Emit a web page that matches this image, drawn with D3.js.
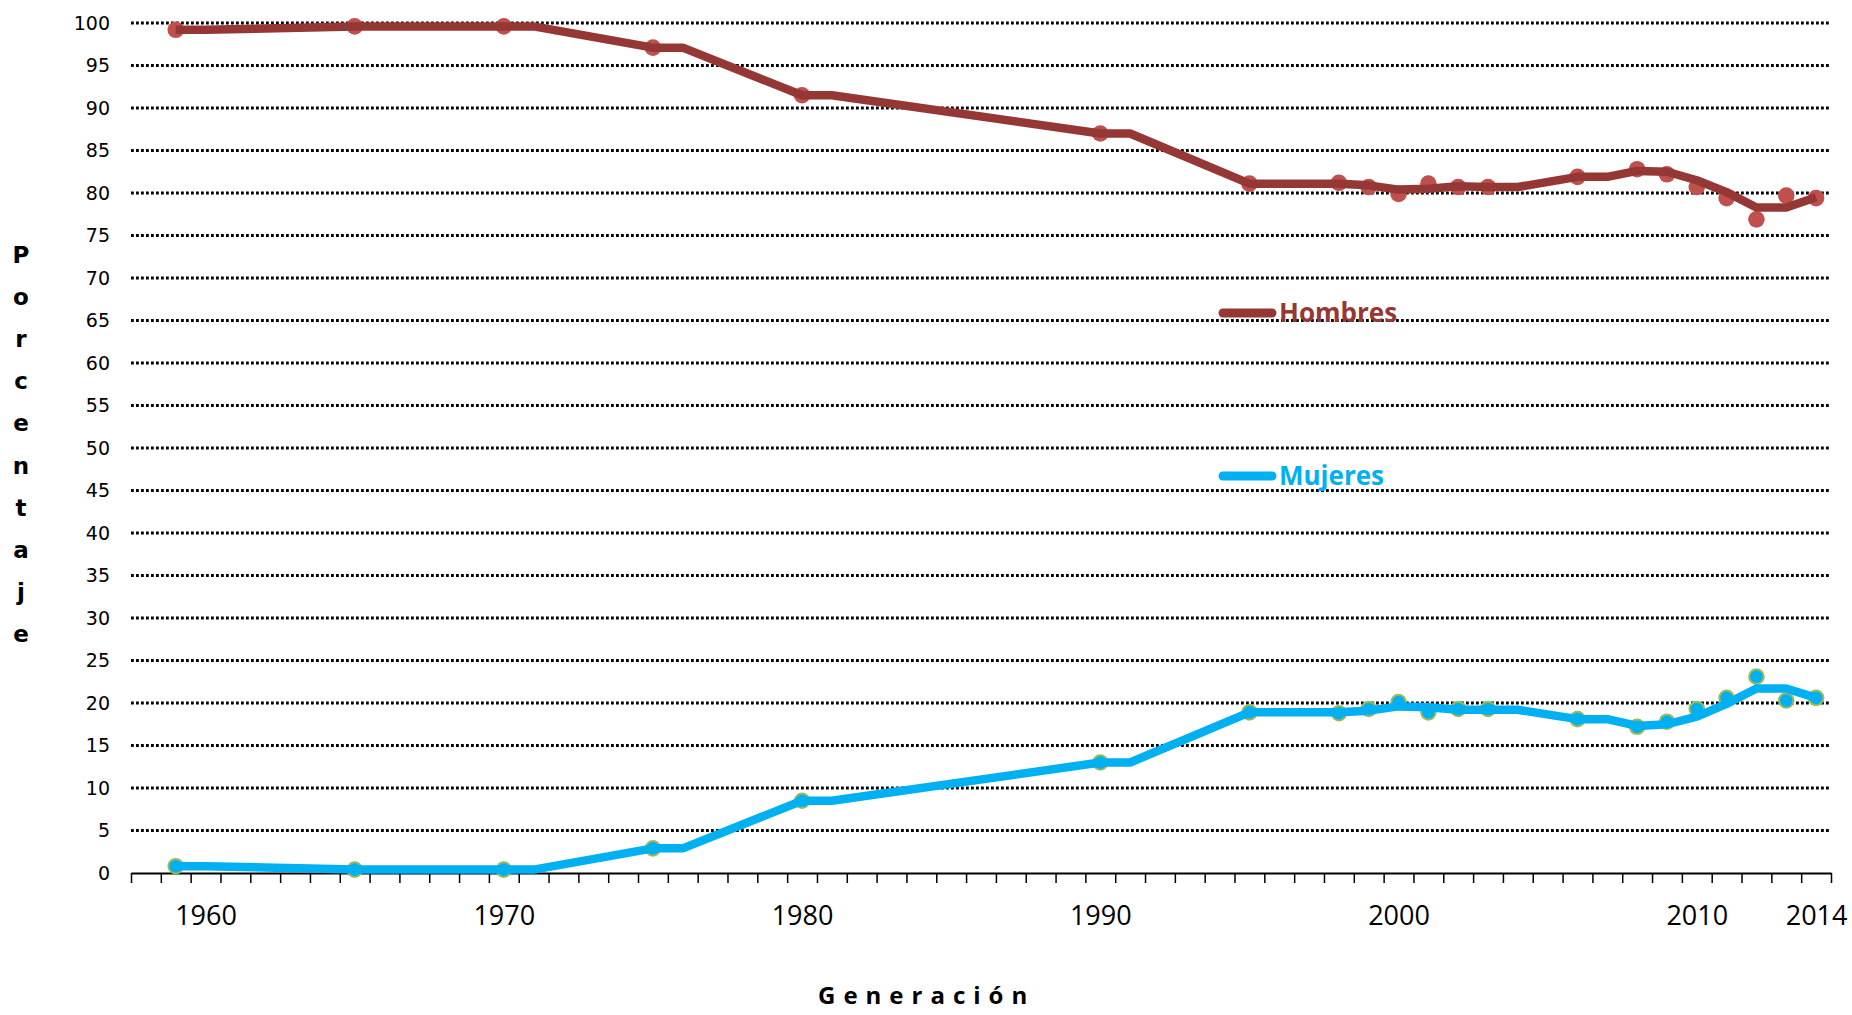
<!DOCTYPE html>
<html>
<head>
<meta charset="utf-8">
<script src="https://d3js.org/d3.v7.min.js"></script>
<style>
  body { margin: 0; background: #fff; }
  svg { display: block; }
</style>
</head>
<body>
<div id="chart"></div>
<script>
// años con dato (marcadores)
var years = [1959, 1965, 1970, 1975, 1980, 1990, 1995, 1998, 1999, 2000, 2001, 2002, 2003, 2006, 2008, 2009, 2010, 2011, 2012, 2013, 2014];
var hombres = [99.2, 99.6, 99.6, 97.1, 91.5, 87.0, 81.1, 81.2, 80.7, 79.9, 81.1, 80.7, 80.7, 81.9, 82.8, 82.2, 80.7, 79.4, 76.9, 79.7, 79.4];
var mujeres = [0.8, 0.4, 0.4, 2.9, 8.5, 13.0, 18.9, 18.8, 19.3, 20.1, 18.9, 19.3, 19.3, 18.1, 17.2, 17.8, 19.3, 20.6, 23.1, 20.3, 20.6];

// línea de tendencia
var lineYears = [1959, 1960, 1965, 1966, 1970, 1971, 1975, 1976, 1980, 1981, 1990, 1991, 1995, 1996, 1998, 1999, 2000, 2001, 2002, 2003, 2004, 2006, 2007, 2008, 2009, 2010, 2011, 2012, 2013, 2014];
var hombresLinea = [99.2, 99.2, 99.6, 99.6, 99.6, 99.6, 97.1, 97.1, 91.5, 91.5, 87.0, 87.0, 81.1, 81.1, 81.1, 80.9, 80.4, 80.5, 80.8, 80.7, 80.7, 81.9, 81.9, 82.6, 82.5, 81.5, 80.1, 78.3, 78.3, 79.5];
var mujeresLinea = [0.8, 0.8, 0.4, 0.4, 0.4, 0.4, 2.9, 2.9, 8.5, 8.5, 13.0, 13.0, 18.9, 18.9, 18.9, 19.1, 19.6, 19.5, 19.2, 19.2, 19.2, 18.1, 18.1, 17.3, 17.5, 18.4, 19.9, 21.7, 21.7, 20.6];

var yTicks = [0, 5, 10, 15, 20, 25, 30, 35, 40, 45, 50, 55, 60, 65, 70, 75, 80, 85, 90, 95, 100];
var xLabels = [1960, 1970, 1980, 1990, 2000, 2010, 2014];

var width = 1852, height = 1015;

var svg = d3.select("#chart")
  .append("svg")
    .attr("width", width)
    .attr("height", height);

var x = d3.scaleLinear()
    .domain([1957.5, 2014.5])
    .range([131, 1831]);

var y = d3.scaleLinear()
    .domain([0, 100])
    .range([873, 23]);

// grid punteado
svg.append("g")
  .selectAll("line")
  .data(yTicks.filter(d => d > 0))
  .enter()
  .append("line")
    .attr("x1", x(1957.5))
    .attr("x2", x(2014.5))
    .attr("y1", d => y(d))
    .attr("y2", d => y(d))
    .style("stroke", "#000")
    .style("stroke-width", 3)
    .style("stroke-dasharray", "2.8,2.2");

// eje y (solo etiquetas)
var yAxis = svg.append("g")
    .attr("transform", "translate(" + x(1957.5) + ",0)")
    .call(d3.axisLeft(y).tickValues(yTicks).tickSize(0).tickPadding(21));
yAxis.select(".domain").remove();
yAxis.selectAll("text")
    .style("font-family", "'DejaVu Sans', Verdana, sans-serif")
    .style("font-size", "19px")
    .style("fill", "#000");

// eje x: marcas entre años
var boundaries = d3.range(1957.5, 2015, 1);
var xAxis = svg.append("g")
    .attr("transform", "translate(0," + y(0) + ")")
    .call(d3.axisBottom(x).tickValues(boundaries).tickSize(10).tickSizeOuter(0).tickFormat(""));
xAxis.select(".domain").style("stroke", "#000").style("stroke-width", 1.8);
xAxis.selectAll(".tick line").style("stroke", "#000").style("stroke-width", 1.5);

var xLab = svg.append("g")
    .attr("transform", "translate(0," + y(0) + ")")
    .call(d3.axisBottom(x).tickValues(xLabels).tickSize(0).tickPadding(33).tickFormat(d3.format("d")));
xLab.select(".domain").remove();
xLab.selectAll("text")
    .style("font-family", "'Open Sans', sans-serif")
    .style("font-size", "27px")
    .style("fill", "#000");

// marcadores
svg.append("g")
  .selectAll("circle")
  .data(years)
  .enter()
  .append("circle")
    .attr("cx", d => x(d))
    .attr("cy", (d, i) => y(hombres[i]))
    .attr("r", 8.3)
    .style("fill", "#C0504D");

svg.append("g")
  .selectAll("circle")
  .data(years)
  .enter()
  .append("circle")
    .attr("cx", d => x(d))
    .attr("cy", (d, i) => y(mujeres[i]))
    .attr("r", 7.3)
    .style("fill", "#00B0F0")
    .style("stroke", "#9BBB59")
    .style("stroke-width", 2);

// líneas de tendencia
var line = d3.line()
    .x(d => x(d[0]))
    .y(d => y(d[1]));

svg.append("path")
    .datum(lineYears.map((d, i) => [d, hombresLinea[i]]))
    .attr("d", line)
    .style("fill", "none")
    .style("stroke", "#953735")
    .style("stroke-width", 8.5)
    .style("stroke-linejoin", "round");

svg.append("path")
    .datum(lineYears.map((d, i) => [d, mujeresLinea[i]]))
    .attr("d", line)
    .style("fill", "none")
    .style("stroke", "#00B0F0")
    .style("stroke-width", 8.5)
    .style("stroke-linejoin", "round");

// leyenda
var legend = [
  {name: "Hombres", color: "#953735", y: 313},
  {name: "Mujeres", color: "#00B0F0", y: 476}
];
legend.forEach(function(l) {
  svg.append("line")
    .attr("x1", 1223).attr("x2", 1272)
    .attr("y1", l.y).attr("y2", l.y)
    .style("stroke", l.color)
    .style("stroke-width", 9)
    .style("stroke-linecap", "round");
  svg.append("text")
    .attr("x", 1279)
    .attr("y", l.y + 9)
    .style("font-family", "'Open Sans', sans-serif")
    .style("font-weight", "bold")
    .style("font-size", "26px")
    .style("fill", l.color)
    .text(l.name);
});

// título eje x
svg.append("text")
    .attr("x", 818)
    .attr("y", 1004)
    .style("font-family", "'Open Sans', sans-serif")
    .style("font-weight", "bold")
    .style("font-size", "24px")
    .style("letter-spacing", "8px")
    .style("fill", "#000")
    .text("Generación");

// título eje y (letras apiladas)
var yTitle = svg.append("text")
    .style("font-family", "'DejaVu Sans', Verdana, sans-serif")
    .style("font-weight", "bold")
    .style("font-size", "23px")
    .style("fill", "#000")
    .attr("text-anchor", "middle");
"Porcentaje".split("").forEach(function(c, i) {
  yTitle.append("tspan")
    .attr("x", 21)
    .attr("y", 263 + i * 42.1)
    .text(c);
});
</script>
</body>
</html>
